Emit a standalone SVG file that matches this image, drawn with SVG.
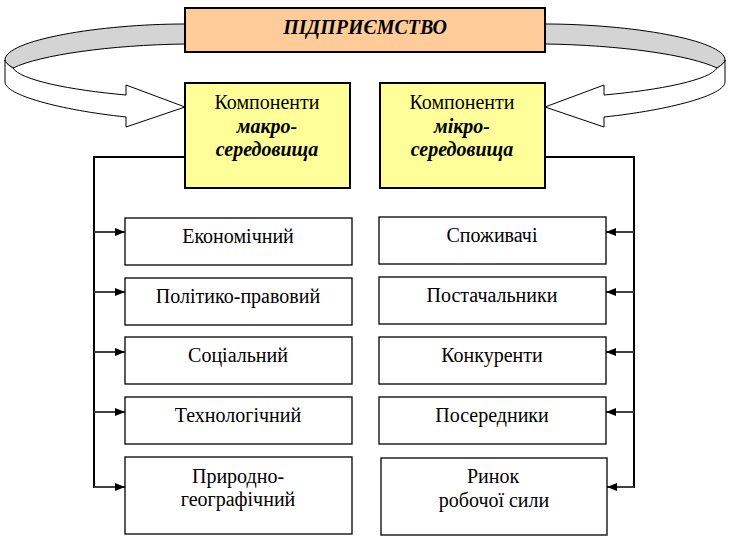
<svg xmlns="http://www.w3.org/2000/svg" width="732" height="539" viewBox="0 0 732 539">
<defs>
<style>
.t{font-family:'Liberation Serif','Times New Roman',serif;font-size:20px;fill:#000;text-anchor:middle}
.bi{font-weight:bold;font-style:italic}
.box{fill:#fff;stroke:#000;stroke-width:1.3}
.ybox{fill:#FFFF99;stroke:#000;stroke-width:2}
.trunk{fill:none;stroke:#000;stroke-width:2}
.br{fill:none;stroke:#404040;stroke-width:2;marker-end:url(#ah)}
.rib{stroke:#000;stroke-width:1}
</style>
<marker id="ah" viewBox="0 0 10 8" refX="10" refY="4" markerWidth="10" markerHeight="8" markerUnits="userSpaceOnUse" orient="auto">
<path d="M0,0 L10,4 L0,8 Z" fill="#000"/>
</marker>
<g id="ribbon">
<path class="rib" fill="#D4D4D4" d="M185,24 C100,24 5,40 5,60 C5,62 8,65 13,68 C40,55 110,45 185,44 Z"/>
<path class="rib" fill="#fff" d="M5,60 L5,82 C5,95 60,110 126,117 L126,127 L185,107 L126,85 L126,95 C70,90 20,80 13,68 C8,65 5,62 5,60 Z"/>
</g>
</defs>
<g id="connectors">
<use href="#ribbon"/>
<use href="#ribbon" transform="translate(730,0) scale(-1,1)"/>
<path class="trunk" d="M185,157 H94 V488"/>
<path class="br" d="M94,232 H125"/>
<path class="br" d="M94,292 H125"/>
<path class="br" d="M94,352 H125"/>
<path class="br" d="M94,412 H125"/>
<path class="br" d="M94,487 H125"/>
<path class="trunk" d="M545,157 H634 V488"/>
<path class="br" d="M634,232 H606"/>
<path class="br" d="M634,292 H606"/>
<path class="br" d="M634,352 H606"/>
<path class="br" d="M634,412 H606"/>
<path class="br" d="M634,487 H607"/>
</g>
<g id="enterprise">
<rect x="185" y="8" width="360" height="44" fill="#FFCC99" stroke="#000" stroke-width="2"/>
<text class="t bi" x="365" y="34">ПІДПРИЄМСТВО</text>
</g>
<g id="macro">
<rect class="ybox" x="185" y="83" width="165" height="105"/>
<text class="t" x="267" y="109">Компоненти</text>
<text class="t bi" x="267" y="133">макро-</text>
<text class="t bi" x="267" y="156">середовища</text>
</g>
<g id="micro">
<rect class="ybox" x="380" y="83" width="165" height="105"/>
<text class="t" x="462" y="109">Компоненти</text>
<text class="t bi" x="462" y="133">мікро-</text>
<text class="t bi" x="462" y="156">середовища</text>
</g>
<g id="economic"><rect class="box" x="125" y="218" width="227" height="47"/><text class="t" x="238" y="243">Економічний</text></g>
<g id="political"><rect class="box" x="125" y="278" width="227" height="47"/><text class="t" x="238" y="303">Політико-правовий</text></g>
<g id="social"><rect class="box" x="125" y="337" width="227" height="47"/><text class="t" x="238" y="362">Соціальний</text></g>
<g id="tech"><rect class="box" x="125" y="397" width="227" height="47"/><text class="t" x="238" y="422">Технологічний</text></g>
<g id="natural"><rect class="box" x="125" y="457" width="227" height="77"/><text class="t" x="238" y="483">Природно-</text><text class="t" x="238" y="506">географічний</text></g>
<g id="consumers"><rect class="box" x="379" y="217" width="227" height="47"/><text class="t" x="492" y="242">Споживачі</text></g>
<g id="suppliers"><rect class="box" x="379" y="277" width="227" height="47"/><text class="t" x="492" y="302">Постачальники</text></g>
<g id="competitors"><rect class="box" x="379" y="337" width="227" height="47"/><text class="t" x="492" y="362">Конкуренти</text></g>
<g id="intermediaries"><rect class="box" x="379" y="397" width="227" height="47"/><text class="t" x="492" y="422">Посередники</text></g>
<g id="labour"><rect class="box" x="381" y="458" width="226" height="77"/><text class="t" x="493" y="483">Ринок</text><text class="t" x="494" y="507">робочої сили</text></g>
</svg>
